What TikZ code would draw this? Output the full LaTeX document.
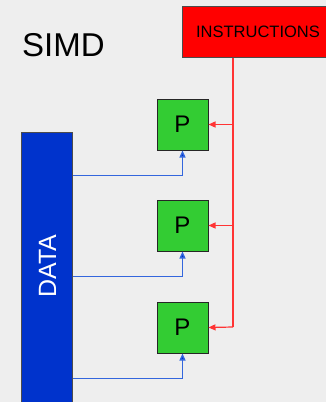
\documentclass[tikz,border=0pt]{standalone}
\usepackage{fontspec}
\setmainfont{Liberation Sans}
\usetikzlibrary{arrows.meta,calc}
\definecolor{bg}{HTML}{EEEEEE}
\definecolor{instrred}{HTML}{FF0000}
\definecolor{pgreen}{HTML}{33CC33}
\definecolor{datablue}{HTML}{0033CC}
\definecolor{lineblue}{HTML}{3366DD}
\definecolor{linered}{HTML}{FF3333}
\tikzset{
  pbox/.style={draw=black!85, line width=1pt, fill=pgreen, minimum width=51pt, minimum height=51pt, inner sep=0pt, font=\fontsize{24}{24}\selectfont},
  redarr/.style={draw=linered, line width=1.2pt, -{Triangle[length=7pt,width=6pt]}},
  bluearr/.style={draw=lineblue, line width=1.3pt, -{Triangle[length=7pt,width=6pt,fill=datablue]}},
}
\begin{document}
\begin{tikzpicture}[x=1pt,y=-1pt]
\useasboundingbox (0,0) rectangle (326,402);
\clip (0,0) rectangle (326,402);
\fill[bg] (0,0) rectangle (326,402);
\node[font=\fontsize{33}{33}\selectfont, anchor=west, inner sep=0pt] (simd) at (22,45) {SIMD};
\node[draw=black!70, line width=1pt, fill=instrred, minimum width=152pt, minimum height=51pt, inner sep=0pt, font=\fontsize{16.5}{16.5}\selectfont] (instr) at (258,31.5) {INSTRUCTIONS};
\node[draw=black!70, line width=1pt, fill=datablue, minimum width=51pt, minimum height=290pt, inner sep=0pt] (data) at (46.5,277) {};
\node[rotate=90, text=white, font=\fontsize{25}{25}\selectfont, inner sep=0pt] (datalbl) at (47.5,266) {DATA};
\node[pbox] (p1) at (182.5,124.5) {P};
\node[pbox] (p2) at (182.5,225.5) {P};
\node[pbox] (p3) at (182.5,327.5) {P};
\coordinate (rb) at (233,327);
\coordinate (b1) at ($(p1.south)+(0,25)$);
\coordinate (b2) at ($(p2.south)+(0,25)$);
\coordinate (b3) at ($(p3.south)+(0,25)$);
\draw[draw=linered, line width=1.2pt] (instr.south -| rb) -- (rb);
\draw[redarr] (p1.east -| rb) -- (p1.east);
\draw[redarr] (p2.east -| rb) -- (p2.east);
\draw[redarr] (rb) -- (p3.east);
\draw[bluearr] (data.east |- b1) -| (p1.south);
\draw[bluearr] (data.east |- b2) -| (p2.south);
\draw[bluearr] (data.east |- b3) -| (p3.south);
\end{tikzpicture}
\end{document}
